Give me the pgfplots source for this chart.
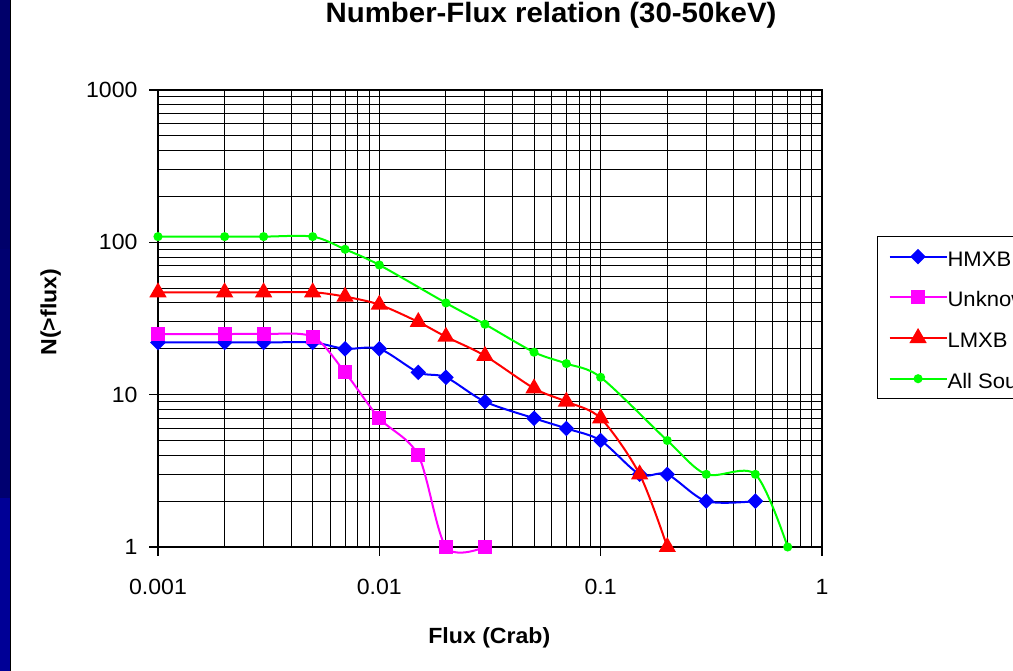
\documentclass[border=0pt]{standalone}
\usepackage{fontspec}
\setmainfont[FakeStretch=1.05]{Liberation Sans}
\usepackage{pgfplots}
\pgfplotsset{compat=1.18}
\definecolor{xlblue}{RGB}{0,0,255}
\definecolor{xlmag}{RGB}{255,0,255}
\definecolor{xlred}{RGB}{255,0,0}
\definecolor{xlgreen}{RGB}{0,255,0}
\definecolor{navyA}{RGB}{0,0,106}
\definecolor{navyB}{RGB}{0,0,112}
\definecolor{navyC}{RGB}{0,0,150}
\begin{document}
\begin{tikzpicture}[x=1pt,y=1pt]
\fill[white] (0,0) rectangle (1013,671);
\fill[navyC] (0,0) rectangle (10.5,173);
\fill[navyB] (0,173) rectangle (10.5,422);
\fill[navyA] (0,422) rectangle (10.5,671);
\draw[black, line width=1.5pt] (10.5,0) -- (10.5,671);
\begin{axis}[
  at={(158pt,124pt)}, anchor=south west,
  scale only axis, width=664pt, height=457pt,
  xmode=log, ymode=log,
  xmin=0.001, xmax=1, ymin=1, ymax=1000,
  xtick={0.001,0.01,0.1,1}, xticklabels={0.001,0.01,0.1,1},
  ytick={1,10,100,1000}, yticklabels={1,10,100,1000},
  /pgf/number format/assume math mode=true,
  grid=both,
  major grid style={black, line width=1pt},
  minor grid style={black, line width=1pt},
  tick align=outside, major tick length=9pt, minor tick length=0pt,
  xtick pos=bottom, ytick pos=left,
  tick style={black, line width=1.5pt},
  axis line style={black, line width=1.5pt},
  tick label style={font=\fontsize{22}{26}\selectfont},
  xticklabel style={anchor=base, yshift=-38.5pt},
  yticklabel style={anchor=east, xshift=-8pt},
  clip=false,
  title={Number-Flux relation (30-50keV)},
  title style={at={(axis description cs:0.592,1)}, anchor=base, yshift=61pt, font=\bfseries\fontsize{28}{32}\selectfont},
  xlabel={Flux (Crab)},
  xlabel style={at={(axis description cs:0.499,0)}, anchor=base, yshift=-97pt, font=\bfseries\fontsize{22}{26}\selectfont},
  ylabel={N(>flux)},
  ylabel style={at={(axis description cs:-0.1530,0.514)}, anchor=base, font=\bfseries\fontsize{22}{26}\selectfont},
  legend style={at={(axis description cs:1.0828,0.6805)}, anchor=north west, draw=black, line width=1.2pt, fill=white,
    inner xsep=11pt, inner ysep=8.5pt, font=\fontsize{21}{25}\selectfont, row sep=17.7pt,
    nodes={inner sep=0pt, text height=21pt, text depth=2pt},
    /tikz/every even column/.append style={column sep=7pt}},
  legend image code/.code={\draw[mark repeat=2,mark phase=2] plot coordinates {(0pt,0pt)(28.5pt,0pt)(57pt,0pt)};},
  legend cell align=left,
]
\addplot[xlblue, line width=2pt, smooth, tension=0.5, mark=square*, mark size=4.5pt, mark options={solid, rotate=45, fill=xlblue, draw=xlblue}] coordinates {
(0.001,22) (0.002,22) (0.003,22) (0.005,22) (0.007,20) (0.01,20) (0.015,14) (0.02,13) (0.03,9) (0.05,7) (0.07,6) (0.1,5) (0.15,3) (0.2,3) (0.3,2) (0.5,2)};
\addlegendentry{HMXB}
\addplot[xlmag, line width=2pt, smooth, tension=0.5, mark=square*, mark size=6pt, mark options={solid, fill=xlmag, draw=xlmag}] coordinates {
(0.001,25) (0.002,25) (0.003,25) (0.005,24) (0.007,14) (0.01,7) (0.015,4) (0.02,1) (0.03,1)};
\addlegendentry{Unknown}
\addplot[xlred, line width=2pt, smooth, tension=0.5, mark=triangle*, mark size=8pt, mark options={solid, fill=xlred, draw=xlred}] coordinates {
(0.001,47) (0.002,47) (0.003,47) (0.005,47) (0.007,44) (0.01,39) (0.015,30) (0.02,24) (0.03,18) (0.05,11) (0.07,9) (0.1,7) (0.15,3) (0.2,1)};
\addlegendentry{LMXB}
\addplot[xlgreen, line width=2pt, smooth, tension=0.5, mark=*, mark size=3.5pt, mark options={solid, fill=xlgreen, draw=xlgreen}] coordinates {
(0.001,109) (0.002,109) (0.003,109) (0.005,109) (0.007,90) (0.01,71) (0.02,40) (0.03,29) (0.05,19) (0.07,16) (0.1,13) (0.2,5) (0.3,3) (0.5,3) (0.7,1)};
\addlegendentry{All Sources}
\end{axis}
\pgfresetboundingbox
\useasboundingbox (0,0) rectangle (1013,671);
\end{tikzpicture}
\end{document}
